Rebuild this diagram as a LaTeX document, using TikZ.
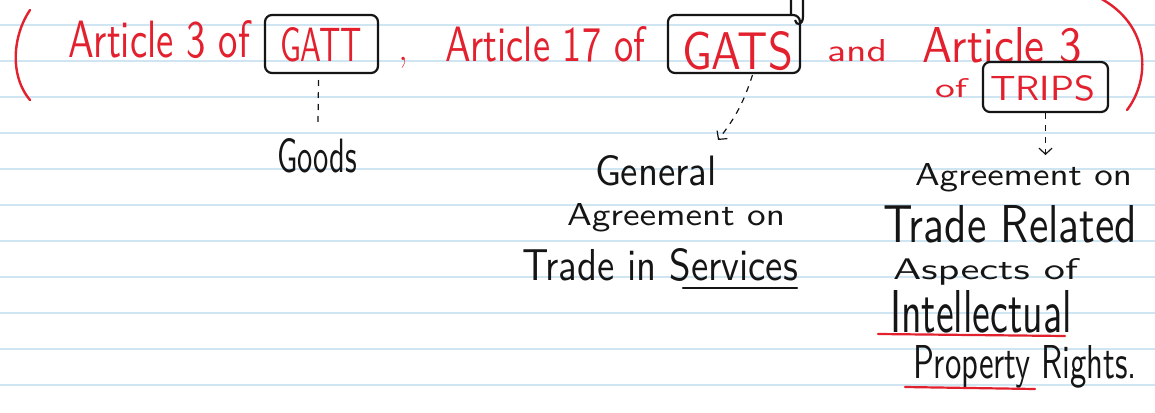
\documentclass[tikz,border=0pt]{standalone}
\usepackage{graphicx}
\usetikzlibrary{arrows.meta,calc}
\definecolor{inkred}{HTML}{E3202D}
\definecolor{inkblack}{HTML}{151515}
\definecolor{ruling}{HTML}{CFE5F2}
% set a line of writing into a box of given width and height (pt)
\newcommand{\penfit}[3]{\resizebox{#1pt}{#2pt}{\sffamily #3}}
\tikzset{
  pen/.style={inner sep=0pt, outer sep=0pt, anchor=base west},
  redpen/.style={pen, text=inkred},
  blackpen/.style={pen, text=inkblack},
  framebox/.style={draw=inkblack, line width=2.2pt, rounded corners=7pt,
    inner sep=0pt, outer sep=0pt},
  dashline/.style={draw=inkblack, line width=1.2pt, dash pattern=on 6pt off 6pt},
  pointer/.style={-{Straight Barb[length=6pt,width=13pt,line width=1.2pt]}},
  underline/.style={line width=2.2pt, line cap=round},
  bracket/.style={draw=inkred, line width=2.4pt, line cap=round}
}
\begin{document}
\begin{tikzpicture}[x=1pt,y=-1pt]
  \useasboundingbox (0,0) rectangle (1155,412);
  \fill[white] (0,0) rectangle (1155,412);
  % ruled paper
  \foreach \k in {0,...,10}
    \draw[ruling, line width=1.4pt] (0,25+36*\k) -- (1155,25+36*\k);

  % brackets round the heading
  \draw[bracket] (30,10) .. controls (13,35) and (9,75) .. (30,100);
  \draw[bracket] (1098,-3) .. controls (1152,25) and (1150,80) .. (1127,110);

  % heading in red
  \node[redpen] (art1) at (68,57) {\penfit{182}{37}{Article 3 of}};
  \node[redpen] (gattt) at (280,62) {\penfit{82}{34}{GATT}};
  \node[redpen, font=\fontsize{40}{40}\selectfont] (comma) at (398,60) {,};
  \node[redpen] (art2) at (445,62) {\penfit{200}{35}{Article 17 of}};
  \node[redpen] (gatst) at (682,70) {\penfit{111}{38}{GATS}};
  \node[redpen] (andw) at (827,62) {\penfit{60}{22}{and}};
  \node[redpen] (art3) at (922,62) {\penfit{160}{35}{Article 3}};
  \node[redpen] (of3) at (935,97) {\penfit{32}{19}{of}};
  \node[redpen] (tripst) at (990,100) {\penfit{105}{25}{TRIPS}};

  % frames round the agreement names
  \node[framebox, minimum width=113pt, minimum height=58pt] (gattbox) at (321.5,44) {};
  \node[framebox, minimum width=132pt, minimum height=58pt] (gatsbox) at (734,44) {};
  \node[framebox, minimum width=125pt, minimum height=50pt] (tripsbox) at (1045.5,87) {};
  % pen loop above the right side of the GATS frame
  \draw[draw=inkblack, line width=2.2pt]
    (791,14) -- (791,-8) (803,-8) -- (803,16) .. controls (803,26) and (796,26) .. (795,20);

  % explanations in black
  \node[blackpen] (goods) at (277,172) {\penfit{80}{34}{Goods}};
  \node[blackpen] (general) at (595,185) {\penfit{122}{30}{General}};
  \node[blackpen] (agr1) at (567,225) {\penfit{218}{22}{Agreement on}};
  \node[blackpen] (trade1) at (522,280) {\penfit{276}{32}{Trade in Services}};
  \node[blackpen] (agr2) at (915,185) {\penfit{217}{22}{Agreement on}};
  \node[blackpen] (trade2) at (883,242) {\penfit{254}{37}{Trade Related}};
  \node[blackpen] (aspects) at (893,279) {\penfit{185}{21}{Aspects of}};
  \node[blackpen] (intel) at (890,332) {\penfit{182}{42}{Intellectual}};
  \node[blackpen] (prop) at (913,378) {\penfit{224}{33}{Property Rights.}};

  % underlines
  \draw[underline, inkblack] (683,288) -- (797,288);
  \draw[underline, inkred] (878,334) -- (1065,336);
  \draw[underline, inkred] (905,387) -- (1035,389);

  % dashed pointers from the frames
  \draw[dashline] ($(gattbox.south)+(-3,7)$) -- ($(goods.north)+(1,-16)$);
  \draw[dashline, pointer]
    ($(gatsbox.south west)!0.64!(gatsbox.south east)+(0,2)$)
    to[bend left=10] ($(general.north east)+(1,-15)$);
  \draw[dashline, pointer, shorten >=8pt]
    ($(tripsbox.south)+(0,1)$) -- (tripsbox.south |- agr2.north);
\end{tikzpicture}
\end{document}
